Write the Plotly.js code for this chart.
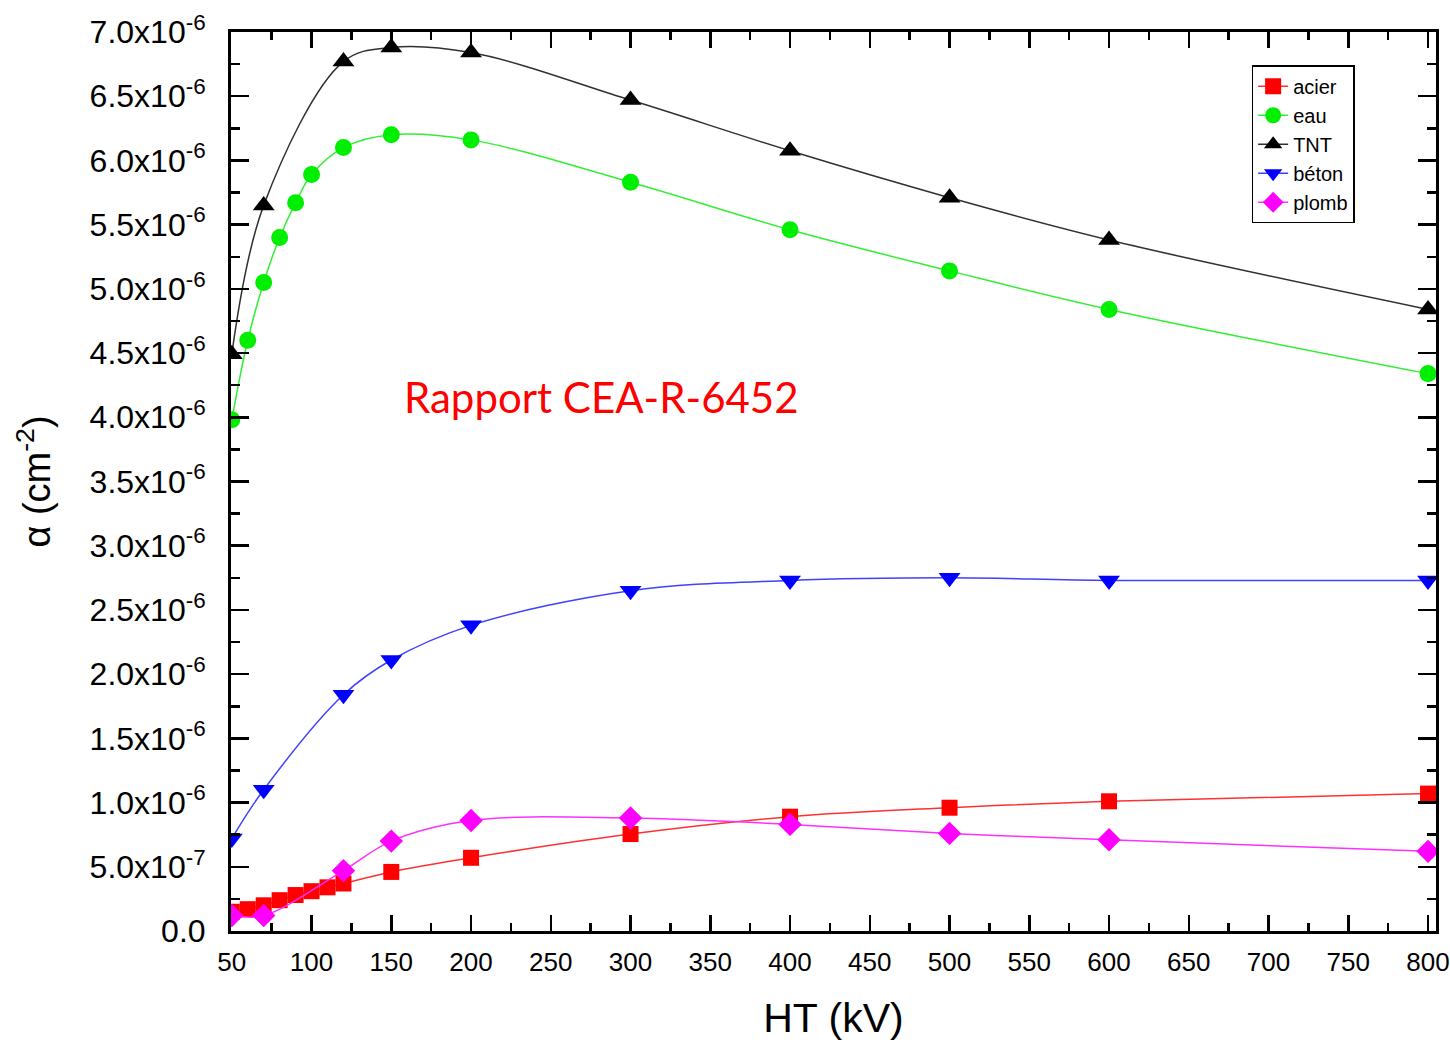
<!DOCTYPE html>
<html>
<head>
<meta charset="utf-8">
<script src="https://cdn.plot.ly/plotly-3.0.1.min.js"></script>
<style>html,body{margin:0;padding:0;background:#fff;}#chart{width:1450px;height:1044px;}</style>
</head>
<body>
<div id="chart"></div>
<script>
// Data (alpha in units of 1e-6 cm^-2)
const acierX = [50, 60, 70, 80, 90, 100, 110, 120, 150, 200, 300, 400, 500, 600, 800];
const acierY = [0.15, 0.17, 0.20, 0.24, 0.28, 0.31, 0.34, 0.37, 0.46, 0.57, 0.755, 0.89, 0.96, 1.01, 1.07];

const eauX = [50, 60, 70, 80, 90, 100, 120, 150, 200, 300, 400, 500, 600, 800];
const eauY = [3.98, 4.60, 5.05, 5.40, 5.67, 5.89, 6.10, 6.20, 6.16, 5.83, 5.46, 5.14, 4.84, 4.34];

const tntX = [50, 70, 120, 150, 200, 300, 400, 500, 600, 800];
const tntY = [4.49, 5.65, 6.77, 6.88, 6.84, 6.47, 6.075, 5.71, 5.38, 4.84];

const betonX = [50, 70, 120, 150, 200, 300, 400, 500, 600, 800];
const betonY = [0.72, 1.10, 1.84, 2.11, 2.38, 2.65, 2.73, 2.75, 2.73, 2.73];

const plombX = [50, 70, 120, 150, 200, 300, 400, 500, 600, 800];
const plombY = [0.12, 0.12, 0.47, 0.70, 0.86, 0.88, 0.83, 0.76, 0.71, 0.62];

const yTickVals = [0, 0.5, 1.0, 1.5, 2.0, 2.5, 3.0, 3.5, 4.0, 4.5, 5.0, 5.5, 6.0, 6.5, 7.0];
const yTickText = ['0.0', '5.0x10<sup>-7</sup>', '1.0x10<sup>-6</sup>', '1.5x10<sup>-6</sup>', '2.0x10<sup>-6</sup>',
  '2.5x10<sup>-6</sup>', '3.0x10<sup>-6</sup>', '3.5x10<sup>-6</sup>', '4.0x10<sup>-6</sup>', '4.5x10<sup>-6</sup>',
  '5.0x10<sup>-6</sup>', '5.5x10<sup>-6</sup>', '6.0x10<sup>-6</sup>', '6.5x10<sup>-6</sup>', '7.0x10<sup>-6</sup>'];

const scale = 1e-6;
const sc = a => a.map(v => v * scale);

function tr(name, x, y, lineColor, mColor, symbol, size) {
  return {
    type: 'scatter', mode: 'lines+markers', name: name,
    x: x, y: sc(y),
    line: {color: lineColor, width: 1.5, shape: 'spline', smoothing: 1},
    marker: {color: mColor, symbol: symbol, size: size, line: {width: 0}}
  };
}

const data = [
  tr('acier', acierX, acierY, '#ff3030', '#ff0000', 'square', 16),
  tr('eau', eauX, eauY, '#33ee33', '#00ee00', 'circle', 17),
  tr('TNT', tntX, tntY, '#303030', '#000000', 'triangle-up', 19),
  tr('béton', betonX, betonY, '#4040ff', '#0000ff', 'triangle-down', 19),
  tr('plomb', plombX, plombY, '#ff30ff', '#ff00ff', 'diamond', 18)
];

const font = 'Liberation Sans, Arial, sans-serif';

const layout = {
  width: 1450, height: 1044,
  margin: {l: 231, r: 14, t: 32, b: 113},
  paper_bgcolor: '#fff', plot_bgcolor: '#fff',
  showlegend: true,
  legend: {
    x: 0.847, y: 0.963, xanchor: 'left', yanchor: 'top',
    bordercolor: '#000', borderwidth: 1.5, bgcolor: '#fff',
    font: {family: font, size: 20, color: '#000'},
    tracegroupgap: 0, itemwidth: 30
  },
  xaxis: {
    range: [49.5, 805], tickmode: 'linear', tick0: 50, dtick: 50,
    ticks: 'inside', ticklen: 16, tickwidth: 2.5, tickcolor: '#000',
    minor: {ticks: 'inside', ticklen: 8, tickwidth: 2.5, tickcolor: '#000', dtick: 25, tick0: 50},
    showline: true, linecolor: '#000', linewidth: 3, mirror: 'allticks',
    showgrid: false, zeroline: false,
    tickfont: {family: font, size: 26, color: '#000'},
    ticklabelstandoff: 6,
    title: {text: 'HT (kV)', font: {family: font, size: 41, color: '#000'}, standoff: 28}
  },
  yaxis: {
    range: [0, 7.0e-6], tickmode: 'array', tickvals: sc(yTickVals), ticktext: yTickText,
    ticks: 'inside', ticklen: 18, tickwidth: 2.5, tickcolor: '#000',
    minor: {ticks: 'inside', ticklen: 9, tickwidth: 2.5, tickcolor: '#000', dtick: 0.25e-6, tick0: 0},
    showline: true, linecolor: '#000', linewidth: 3, mirror: 'allticks',
    showgrid: false, zeroline: false,
    tickfont: {family: font, size: 32, color: '#000'},
    ticklabelstandoff: 16,
    title: {text: 'α (cm<sup>-2</sup>)', font: {family: font, size: 38, color: '#000'}, standoff: 28}
  },
  annotations: [{
    x: 282, y: 4.16e-6, xref: 'x', yref: 'y', showarrow: false,
    text: 'Rapport CEA-R-6452',
    font: {family: 'Lato, Open Sans, sans-serif', size: 42, color: '#ff0000'}
  }]
};

Plotly.newPlot('chart', data, layout, {displayModeBar: false, staticPlot: true});
</script>
</body>
</html>
